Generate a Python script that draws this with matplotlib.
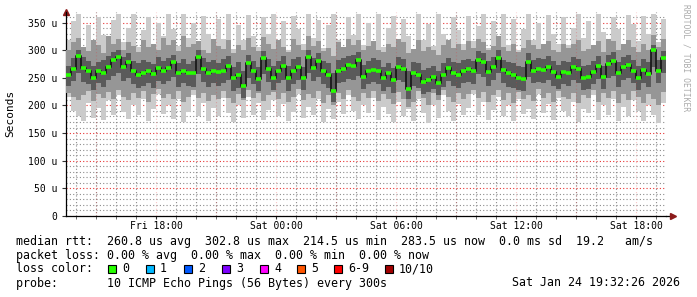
import matplotlib
matplotlib.use("Agg")
import matplotlib.pyplot as plt
import matplotlib.dates as mdates
from matplotlib.patches import Rectangle
import numpy as np
import pandas as pd

W, H = 697, 297
MONO = "DejaVu Sans Mono"

# 15 minute steps, Fri 13:30 -> Sat 19:30
start = "2026-01-23 13:30"
step = "15min"

# median rtt (us)
med = [255, 265, 290, 268, 262, 250, 262, 258, 270, 282, 288, 270, 278, 262, 255, 258, 262, 256, 268, 262,
       267, 278, 258, 262, 258, 258, 288, 266, 258, 262, 260, 262, 272, 250, 255, 236, 276, 262, 248, 285,
       266, 250, 262, 272, 250, 262, 270, 250, 288, 268, 280, 262, 255, 226, 262, 266, 274, 272, 282, 252,
       262, 264, 262, 250, 258, 246, 270, 266, 230, 258, 255, 242, 246, 252, 240, 255, 268, 258, 255, 262,
       266, 262, 282, 278, 260, 270, 286, 264, 258, 255, 250, 248, 278, 262, 266, 264, 270, 260, 252, 260,
       258, 270, 265, 250, 252, 260, 272, 252, 275, 280, 258, 270, 274, 262, 250, 264, 256, 300, 262, 285]

# smoke: outer ping range
hi = [318, 352, 366, 306, 345, 312, 360, 328, 300, 355, 366, 315, 340, 366, 305, 336, 360, 310, 350, 325,
      366, 338, 308, 366, 322, 350, 304, 362, 330, 310, 356, 320, 366, 302, 345, 318, 364, 326, 306, 360,
      330, 366, 310, 352, 300, 362, 338, 312, 366, 322, 355, 304, 346, 366, 318, 302, 360, 328, 366, 310,
      350, 316, 366, 306, 340, 362, 312, 356, 326, 300, 366, 318, 348, 308, 366, 330, 304, 360, 336, 312,
      362, 316, 344, 366, 304, 352, 326, 366, 310, 356, 300, 338, 366, 318, 350, 306, 364, 330, 312, 360,
      310, 340, 366, 322, 352, 300, 366, 332, 312, 360, 338, 306, 364, 348, 316, 362, 330, 366, 314, 356]
lo = [215, 190, 180, 172, 205, 178, 196, 174, 210, 182, 218, 188, 176, 200, 182, 212, 172, 194, 220, 184,
      200, 176, 212, 170, 188, 218, 180, 205, 172, 196, 180, 214, 186, 170, 200, 178, 216, 182, 204, 174,
      192, 210, 180, 202, 172, 188, 220, 178, 198, 182, 212, 170, 194, 176, 206, 184, 218, 190, 176, 200,
      186, 214, 174, 198, 184, 170, 206, 180, 194, 172, 212, 186, 168, 200, 178, 218, 190, 172, 202, 182,
      196, 220, 182, 206, 174, 192, 216, 180, 200, 172, 212, 184, 194, 176, 220, 186, 202, 174, 214, 190,
      180, 206, 170, 194, 186, 218, 174, 200, 182, 212, 172, 198, 180, 210, 190, 172, 200, 182, 168, 204]

# middle ping range
uh = [300, 315, 322, 305, 298, 318, 310, 295, 325, 312, 320, 300, 315, 308, 296, 318, 305, 312, 300, 322,
      310, 318, 298, 325, 305, 312, 316, 300, 295, 320, 308, 302, 318, 294, 310, 300, 322, 306, 298, 324,
      312, 302, 318, 306, 296, 320, 310, 300, 326, 308, 316, 298, 304, 290, 314, 306, 320, 310, 318, 300,
      308, 316, 300, 296, 312, 306, 320, 314, 294, 302, 318, 298, 306, 300, 292, 310, 318, 304, 312, 300,
      316, 304, 320, 314, 300, 308, 326, 306, 298, 312, 296, 304, 318, 310, 302, 312, 316, 300, 296, 312,
      304, 312, 318, 298, 302, 310, 316, 296, 320, 316, 300, 312, 318, 306, 296, 312, 300, 328, 306, 320]
ul = [222, 215, 210, 218, 226, 208, 220, 214, 224, 212, 228, 216, 210, 222, 214, 226, 206, 220, 230, 214,
      220, 212, 226, 206, 216, 228, 214, 222, 208, 218, 212, 226, 214, 204, 220, 210, 228, 214, 222, 208,
      218, 224, 212, 222, 206, 216, 230, 210, 220, 214, 226, 204, 218, 200, 222, 212, 228, 216, 208, 222,
      214, 226, 208, 220, 212, 202, 224, 212, 198, 206, 226, 214, 200, 222, 210, 228, 216, 206, 222, 212,
      220, 228, 214, 224, 206, 218, 228, 210, 222, 204, 224, 212, 218, 208, 230, 214, 222, 206, 226, 216,
      212, 222, 204, 218, 214, 228, 206, 222, 214, 226, 204, 220, 210, 226, 216, 204, 220, 212, 200, 224]

# inner ping range
ch = [272, 285, 300, 288, 280, 272, 278, 282, 290, 296, 300, 288, 295, 280, 276, 282, 278, 275, 288, 280,
      285, 292, 276, 284, 275, 280, 300, 285, 278, 282, 276, 284, 290, 270, 278, 262, 292, 280, 270, 298,
      284, 272, 280, 290, 272, 284, 288, 270, 300, 286, 294, 280, 276, 258, 282, 286, 290, 292, 296, 274,
      280, 286, 282, 270, 276, 268, 288, 284, 262, 278, 276, 264, 268, 272, 262, 276, 286, 278, 276, 282,
      284, 280, 298, 294, 280, 288, 300, 282, 278, 276, 272, 270, 294, 282, 286, 284, 290, 280, 274, 280,
      278, 288, 284, 272, 274, 280, 290, 272, 292, 296, 278, 288, 292, 282, 272, 284, 278, 310, 282, 298]
cl = [236, 244, 258, 242, 238, 228, 240, 234, 246, 254, 258, 244, 250, 238, 232, 236, 240, 232, 244, 238,
      244, 252, 234, 240, 236, 234, 256, 242, 234, 240, 236, 240, 246, 226, 232, 214, 250, 238, 226, 256,
      242, 228, 240, 246, 226, 238, 246, 228, 258, 244, 252, 238, 232, 206, 240, 242, 248, 246, 254, 230,
      238, 242, 238, 226, 234, 222, 246, 242, 212, 236, 232, 220, 224, 230, 218, 234, 244, 236, 232, 240,
      242, 238, 256, 252, 236, 246, 258, 240, 234, 232, 228, 226, 252, 240, 242, 240, 246, 236, 230, 238,
      236, 246, 240, 228, 230, 238, 248, 230, 250, 254, 234, 246, 250, 240, 228, 240, 234, 270, 240, 258]

yticks = [0, 50, 100, 150, 200, 250, 300, 350]
ytick_labels = ["0", "50 u", "100 u", "150 u", "200 u", "250 u", "300 u", "350 u"]

loss_labels = ["0", "1", "2", "3", "4", "5", "6-9", "10/10"]
loss_colors = ["#26ff00", "#00b8ff", "#0059ff", "#7e00ff", "#ff00ff", "#ff5500", "#ff0000", "#a10000"]

legend_lines = [
    "median rtt:  260.8 us avg  302.8 us max  214.5 us min  283.5 us now  0.0 ms sd  19.2   am/s",
    "packet loss: 0.00 % avg  0.00 % max  0.00 % min  0.00 % now",
    "loss color:",
    "probe:       10 ICMP Echo Pings (56 Bytes) every 300s",
]
stamp = "Sat Jan 24 19:32:26 2026"


def px(x, y):
    # pixel position -> figure fraction
    return x / W, 1 - y / H


def ext(v):
    return np.append(v, v[-1])


t = pd.date_range(start, periods=len(med) + 1, freq=step)

fig = plt.figure(figsize=(W / 100, H / 100), dpi=100)
ax = fig.add_axes([66 / W, 81 / H, 600 / W, 204 / H])

ax.fill_between(t, ext(lo), ext(hi), step="post", color="#cbcbcb", lw=0, zorder=2)
ax.fill_between(t, ext(ul), ext(uh), step="post", color="#969696", lw=0, zorder=3)
ax.fill_between(t, ext(cl), ext(ch), step="post", color="#5a5a5a", lw=0, zorder=4)
ax.step(t, ext(med), where="post", color="#1a1a1a", lw=1.3, zorder=6)
ax.hlines(med, t[:-1], t[1:], color=loss_colors[0], lw=2.6, zorder=7)

ax.set_xlim(t[0], t[-1])
ax.set_ylim(0, 369)

# grid drawn over the smoke: gray every hour / 10 us, reddish every 3 h / 50 us
ax.set_yticks(yticks)
ax.set_yticklabels(ytick_labels, family=MONO, fontsize=7)
ax.set_yticks(np.arange(0, 369, 10), minor=True)
ax.xaxis.set_major_locator(mdates.HourLocator(byhour=[0, 6, 12, 18]))
ax.xaxis.set_major_formatter(mdates.DateFormatter("%a %H:%M"))
ax.xaxis.set_minor_locator(mdates.HourLocator())
for lab in ax.get_xticklabels():
    lab.set_family(MONO)
    lab.set_fontsize(7)

grid = dict(ls=(0, (1, 2)), lw=0.8, zorder=5)
gray_grid = (0.55, 0.55, 0.55, 0.22)
red_grid = (0.9, 0.2, 0.2, 0.28)
ax.grid(which="minor", color=gray_grid, **grid)
ax.grid(which="major", axis="y", color=red_grid, **grid)
ax.grid(which="major", axis="x", visible=False)
for d in mdates.HourLocator(byhour=range(0, 24, 3)).tick_values(t[0], t[-1]):
    ax.axvline(d, color=red_grid, **grid)

ax.tick_params(which="major", axis="y", length=3, width=0.8, pad=3, color="#333333")
ax.tick_params(which="minor", axis="y", length=0)
ax.tick_params(which="major", axis="x", length=2, width=0.8, pad=1.5, color="#333333")
ax.tick_params(which="minor", axis="x", length=2, width=0.6, color="#555555")

for s in ["top", "right"]:
    ax.spines[s].set_visible(False)
ax.spines["left"].set_linewidth(0.9)
ax.spines["bottom"].set_linewidth(0.9)
ax.plot([1.0, 1.008], [0, 0], transform=ax.transAxes, color="black", lw=0.9, clip_on=False)
ax.plot([1.012], [0], transform=ax.transAxes, marker=">", color="#8b1a1a", ms=4, clip_on=False)
ax.plot([0], [1.0], transform=ax.transAxes, marker="^", color="#8b1a1a", ms=4, clip_on=False)

fig.text(*px(10, 113), "Seconds", rotation=90, ha="center", va="center", family=MONO, fontsize=8)
fig.text(*px(686, 4), "RRDTOOL / TOBI OETIKER", rotation=270, ha="center", va="top",
         family=MONO, fontsize=5.8, color="#aaaaaa")

# legend block
for i, line in enumerate(legend_lines):
    fig.text(*px(16, 241 + 14 * i), line, ha="left", va="center", family=MONO, fontsize=8.4)
fig.text(*px(680, 283), stamp, ha="right", va="center", family=MONO, fontsize=8.4)

box_x = [108, 146, 184, 222, 260, 297, 334, 385]
for bx, lab, col in zip(box_x, loss_labels, loss_colors):
    x0, y0 = px(bx, 273)
    fig.add_artist(Rectangle((x0, y0), 8 / W, 8 / H, transform=fig.transFigure,
                             facecolor=col, edgecolor="black", lw=0.8))
    fig.text(*px(bx + 14, 269), lab, ha="left", va="center", family=MONO, fontsize=8.4)

fig.savefig("out.png", dpi=100)
